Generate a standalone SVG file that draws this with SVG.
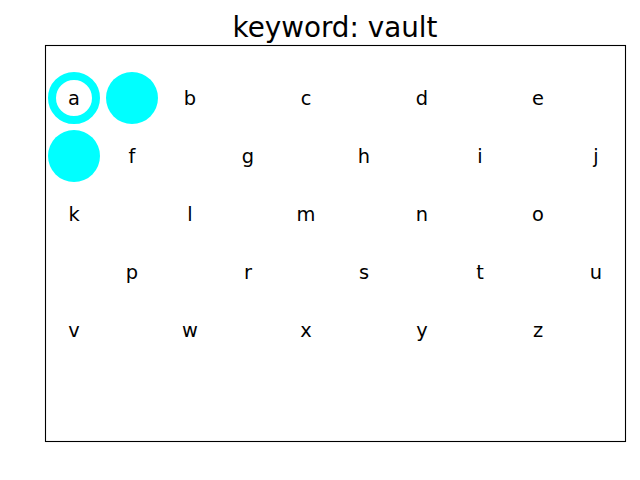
<svg xmlns="http://www.w3.org/2000/svg" width="640" height="480" viewBox="0 0 640 480">
<style>
.t{font-family:"DejaVu Sans",sans-serif;font-size:19.4px;text-anchor:middle;fill:#000}
.title{font-family:"DejaVu Sans",sans-serif;font-size:27.8px;text-anchor:middle;fill:#000}
</style>
<rect width="640" height="480" fill="#fff"/>
<text class="title" x="335" y="37">keyword: vault</text>
<rect x="45.5" y="45.5" width="580" height="396" fill="none" stroke="#000" stroke-width="1.1"/>
<g id="markers">
<circle id="ring-a" cx="74" cy="98" r="22" fill="none" stroke="#00ffff" stroke-width="8"/>
<circle id="dot-1" cx="132" cy="98" r="26" fill="#00ffff"/>
<circle id="dot-2" cx="74" cy="156" r="26" fill="#00ffff"/>
</g>
<g id="letters">
<text class="t" x="74" y="104.7">a</text>
<text class="t" x="190" y="104.7">b</text>
<text class="t" x="306" y="104.7">c</text>
<text class="t" x="422" y="104.7">d</text>
<text class="t" x="538" y="104.7">e</text>
<text class="t" x="132" y="162.7">f</text>
<text class="t" x="248" y="162.7">g</text>
<text class="t" x="364" y="162.7">h</text>
<text class="t" x="480" y="162.7">i</text>
<text class="t" x="596" y="162.7">j</text>
<text class="t" x="74" y="220.7">k</text>
<text class="t" x="190" y="220.7">l</text>
<text class="t" x="306" y="220.7">m</text>
<text class="t" x="422" y="220.7">n</text>
<text class="t" x="538" y="220.7">o</text>
<text class="t" x="132" y="278.7">p</text>
<text class="t" x="248" y="278.7">r</text>
<text class="t" x="364" y="278.7">s</text>
<text class="t" x="480" y="278.7">t</text>
<text class="t" x="596" y="278.7">u</text>
<text class="t" x="74" y="336.7">v</text>
<text class="t" x="190" y="336.7">w</text>
<text class="t" x="306" y="336.7">x</text>
<text class="t" x="422" y="336.7">y</text>
<text class="t" x="538" y="336.7">z</text>
</g>
</svg>
